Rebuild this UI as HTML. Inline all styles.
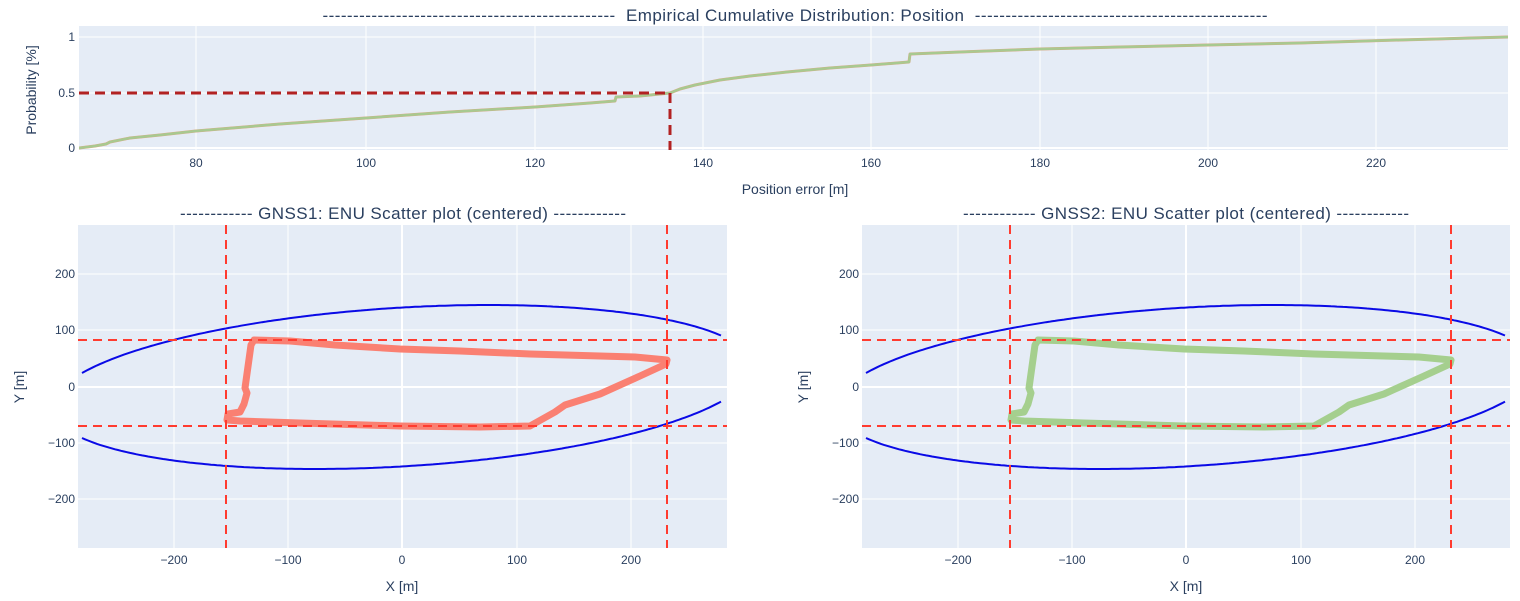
<!DOCTYPE html>
<html><head><meta charset="utf-8"><style>
html,body{margin:0;padding:0;background:#fff;}
svg{display:block;font-family:"Liberation Sans",sans-serif;}
.t{fill:#2a3f5f;font-size:12px;}
.ti{fill:#2a3f5f;font-size:17px;white-space:pre;}
.g{stroke:#fff;stroke-width:1;}
</style></head><body>
<svg width="1520" height="601" viewBox="0 0 1520 601">
<defs>
<clipPath id="c1"><rect x="79" y="26" width="1429" height="124"/></clipPath>
<clipPath id="c2"><rect x="78" y="225" width="649" height="323"/></clipPath>
<clipPath id="c3"><rect x="862" y="225" width="648" height="323"/></clipPath>
</defs>
<rect width="1520" height="601" fill="#fff"/>
<rect x="79" y="26" width="1429" height="124" fill="#e5ecf6"/>
<g class="g">
<line x1="196" y1="26" x2="196" y2="150"/><line x1="366" y1="26" x2="366" y2="150"/><line x1="535" y1="26" x2="535" y2="150"/><line x1="703" y1="26" x2="703" y2="150"/><line x1="871" y1="26" x2="871" y2="150"/><line x1="1040" y1="26" x2="1040" y2="150"/><line x1="1208" y1="26" x2="1208" y2="150"/><line x1="1376" y1="26" x2="1376" y2="150"/>
<line x1="79" y1="37" x2="1508" y2="37"/><line x1="79" y1="93" x2="1508" y2="93"/><line x1="79" y1="148" x2="1508" y2="148" stroke-width="2"/>
</g>
<g clip-path="url(#c1)">
<polyline fill="none" stroke="#e8a080" stroke-width="3" stroke-linejoin="round" points="79,148 95,146 106,144 110,142 130,138 160,135 196,131 280,124 366,118 450,112 535,107 590,103 615,101 616,97 640,96 670,93 680,89 695,85 720,80 750,76 787,72 830,68 871,65 909,62 910,54 960,52 1040,49 1120,47 1208,45 1300,43 1400,40 1508,37"/>
<polyline fill="none" stroke="#a8c990" stroke-width="2.5" stroke-linejoin="round" points="79,148 95,146 106,144 110,142 130,138 160,135 196,131 280,124 366,118 450,112 535,107 590,103 615,101 616,97 640,96 670,93 680,89 695,85 720,80 750,76 787,72 830,68 871,65 909,62 910,54 960,52 1040,49 1120,47 1208,45 1300,43 1400,40 1508,37"/>
<line x1="79" y1="93" x2="670" y2="93" stroke="#b22222" stroke-width="3" stroke-dasharray="10,6"/>
<line x1="670" y1="93" x2="670" y2="150" stroke="#b22222" stroke-width="3" stroke-dasharray="10,6"/>
</g>
<g class="t" text-anchor="end">
<text x="75" y="41">1</text><text x="75" y="97">0.5</text><text x="75" y="152">0</text>
</g>
<g class="t" text-anchor="middle">
<text x="196" y="167">80</text><text x="366" y="167">100</text><text x="535" y="167">120</text><text x="703" y="167">140</text><text x="871" y="167">160</text><text x="1040" y="167">180</text><text x="1208" y="167">200</text><text x="1376" y="167">220</text>
<text x="795" y="194" font-size="14">Position error [m]</text>
<text transform="translate(36,90) rotate(-90)" font-size="14">Probability [%]</text>
</g>
<text class="ti" x="795" y="21" text-anchor="middle" textLength="945">------------------------------------------------  Empirical Cumulative Distribution: Position  ------------------------------------------------</text>

<rect x="78" y="225" width="649" height="323" fill="#e5ecf6"/>
<g class="g">
<line x1="174" y1="225" x2="174" y2="548"/><line x1="288" y1="225" x2="288" y2="548"/><line x1="402" y1="225" x2="402" y2="548" stroke-width="2"/><line x1="517" y1="225" x2="517" y2="548"/><line x1="631" y1="225" x2="631" y2="548"/>
<line x1="78" y1="274" x2="727" y2="274"/><line x1="78" y1="330" x2="727" y2="330"/><line x1="78" y1="387" x2="727" y2="387" stroke-width="2"/><line x1="78" y1="443" x2="727" y2="443"/><line x1="78" y1="499" x2="727" y2="499"/>
</g>
<g clip-path="url(#c2)">
<path id="e1u" fill="none" stroke="#0a0ae6" stroke-width="2"/>
<path id="e1l" fill="none" stroke="#0a0ae6" stroke-width="2"/>
<polyline fill="none" stroke="#fa8072" stroke-width="7" stroke-linejoin="round" stroke-linecap="round" points="227,420 228,414 240,412 244,404 247,393 245,388 251,345 254,340 290,341 335,345 400,349 460,351 530,354 600,356 635,357 667,360 666,364 640,376 600,394 565,405 555,412 530,426 480,427 400,426 300,423 240,421 227,420"/>
<line x1="226" y1="225" x2="226" y2="548" stroke="#ff3b2f" stroke-width="2" stroke-dasharray="9,6"/>
<line x1="667" y1="225" x2="667" y2="548" stroke="#ff3b2f" stroke-width="2" stroke-dasharray="9,6"/>
<line x1="78" y1="340" x2="727" y2="340" stroke="#ff3b2f" stroke-width="2" stroke-dasharray="9,6"/>
<line x1="78" y1="426" x2="727" y2="426" stroke="#ff3b2f" stroke-width="2" stroke-dasharray="9,6"/>
</g>
<g class="t" text-anchor="end">
<text x="75" y="278">200</text><text x="75" y="334">100</text><text x="75" y="391">0</text><text x="75" y="447">−100</text><text x="75" y="503">−200</text>
</g>
<g class="t" text-anchor="middle">
<text x="174" y="564">−200</text><text x="288" y="564">−100</text><text x="402" y="564">0</text><text x="517" y="564">100</text><text x="631" y="564">200</text>
<text x="402" y="591" font-size="14">X [m]</text>
<text transform="translate(24,387) rotate(-90)" font-size="14">Y [m]</text>
</g>
<text class="ti" x="403" y="219" text-anchor="middle" textLength="446">------------ GNSS1: ENU Scatter plot (centered) ------------</text>

<rect x="862" y="225" width="648" height="323" fill="#e5ecf6"/>
<g class="g">
<line x1="958" y1="225" x2="958" y2="548"/><line x1="1072" y1="225" x2="1072" y2="548"/><line x1="1186" y1="225" x2="1186" y2="548" stroke-width="2"/><line x1="1301" y1="225" x2="1301" y2="548"/><line x1="1415" y1="225" x2="1415" y2="548"/>
<line x1="862" y1="274" x2="1510" y2="274"/><line x1="862" y1="330" x2="1510" y2="330"/><line x1="862" y1="387" x2="1510" y2="387" stroke-width="2"/><line x1="862" y1="443" x2="1510" y2="443"/><line x1="862" y1="499" x2="1510" y2="499"/>
</g>
<g clip-path="url(#c3)">
<path id="e2u" fill="none" stroke="#0a0ae6" stroke-width="2"/>
<path id="e2l" fill="none" stroke="#0a0ae6" stroke-width="2"/>
<polyline transform="translate(784,0)" fill="none" stroke="#a5cf8e" stroke-width="7" stroke-linejoin="round" stroke-linecap="round" points="227,420 228,414 240,412 244,404 247,393 245,388 251,345 254,340 290,341 335,345 400,349 460,351 530,354 600,356 635,357 667,360 666,364 640,376 600,394 565,405 555,412 530,426 480,427 400,426 300,423 240,421 227,420"/>
<line x1="1010" y1="225" x2="1010" y2="548" stroke="#ff3b2f" stroke-width="2" stroke-dasharray="9,6"/>
<line x1="1451" y1="225" x2="1451" y2="548" stroke="#ff3b2f" stroke-width="2" stroke-dasharray="9,6"/>
<line x1="862" y1="340" x2="1510" y2="340" stroke="#ff3b2f" stroke-width="2" stroke-dasharray="9,6"/>
<line x1="862" y1="426" x2="1510" y2="426" stroke="#ff3b2f" stroke-width="2" stroke-dasharray="9,6"/>
</g>
<g class="t" text-anchor="end">
<text x="859" y="278">200</text><text x="859" y="334">100</text><text x="859" y="391">0</text><text x="859" y="447">−100</text><text x="859" y="503">−200</text>
</g>
<g class="t" text-anchor="middle">
<text x="958" y="564">−200</text><text x="1072" y="564">−100</text><text x="1186" y="564">0</text><text x="1301" y="564">100</text><text x="1415" y="564">200</text>
<text x="1186" y="591" font-size="14">X [m]</text>
<text transform="translate(808,387) rotate(-90)" font-size="14">Y [m]</text>
</g>
<text class="ti" x="1186" y="219" text-anchor="middle" textLength="446">------------ GNSS2: ENU Scatter plot (centered) ------------</text>
</svg>
<script>
(function(){
var A=8.661e-6,B=1.832e-5,C=1.584e-4;
function build(cx,cy,iu,il){
  var u="",l="";
  for(var px=82;px<=723;px+=3){
    var x=px-402;
    var b=B*x, c=A*x*x-1, d=b*b-4*C*c; if(d<0)d=0;
    var s=Math.sqrt(d);
    var y1=(-b-s)/(2*C), y2=(-b+s)/(2*C);
    var X=(px-402+cx).toFixed(1);
    u+=(u?"L":"M")+X+","+(cy+y1).toFixed(1);
    l+=(l?"L":"M")+X+","+(cy+y2).toFixed(1);
  }
  document.getElementById(iu).setAttribute("d",u);
  document.getElementById(il).setAttribute("d",l);
}
build(402,387,"e1u","e1l");
build(1186,387,"e2u","e2l");
})();
</script>
</body></html>
